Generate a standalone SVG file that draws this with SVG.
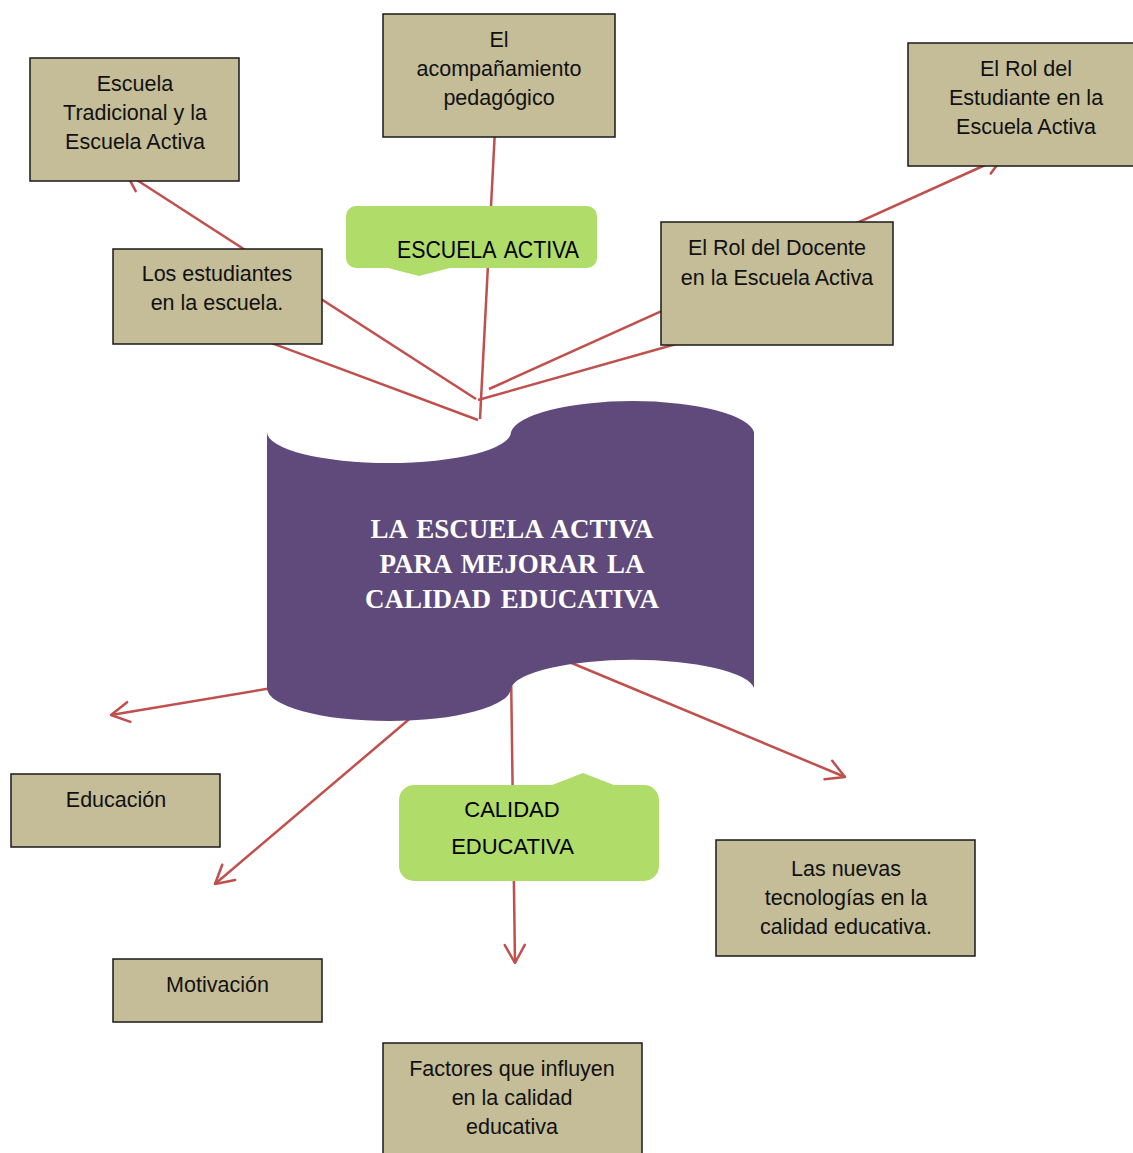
<svg xmlns="http://www.w3.org/2000/svg" width="1133" height="1153" viewBox="0 0 1133 1153">
  <defs>
    <marker id="arr" markerUnits="userSpaceOnUse" markerWidth="30" markerHeight="30" viewBox="-24 -15 28 30" refX="0" refY="0" orient="auto">
      <path d="M-18,-10 L0,0 L-18,10" fill="none" stroke="#C0504D" stroke-width="2.5" stroke-linecap="round" stroke-linejoin="round"/>
    </marker>
  </defs>
  <style>
    .conn { stroke: #C0504D; stroke-width: 2.5; fill: none; marker-end: url(#arr); }
    .box { fill: #C4BD97; stroke: #1a1a1a; stroke-width: 1.5; }
    .bt { font-family: "Liberation Sans", Arial, sans-serif; font-size: 21.5px; fill: #111; text-anchor: middle; }
    .call { fill: #B0DC6A; }
    .ct { font-family: "Liberation Sans", Arial, sans-serif; fill: #000; }
    .title { font-family: "Liberation Serif", "Times New Roman", serif; font-weight: bold; font-size: 27px; fill: #ffffff; text-anchor: middle; word-spacing: 3px; }
  </style>
  <rect width="1133" height="1153" fill="#ffffff"/>

  <g id="connectors">
    <line class="conn" x1="476" y1="399" x2="126" y2="173"/>
    <line class="conn" x1="478" y1="420" x2="215" y2="322"/>
    <line class="conn" x1="480" y1="419" x2="496" y2="110"/>
    <line class="conn" x1="489" y1="389" x2="1003" y2="157"/>
    <line class="conn" x1="478" y1="400" x2="740" y2="326"/>
    <line class="conn" x1="290" y1="685" x2="111" y2="715"/>
    <line class="conn" x1="420" y1="710" x2="215" y2="884"/>
    <line class="conn" x1="511" y1="670" x2="515" y2="963"/>
    <line class="conn" x1="550" y1="654" x2="845" y2="777"/>
  </g>

  <g id="center">
    <path d="M267,432 A122,31 0 0 0 511,432 A122,34 0 0 1 754,432 L754,688 A122,31 0 0 0 511,688 A122,33 0 0 1 267,688 Z" fill="#5F4A7B"/>
    <text class="title" x="512" y="538">LA ESCUELA ACTIVA</text>
    <text class="title" x="512" y="573">PARA MEJORAR LA</text>
    <text class="title" x="512" y="608">CALIDAD EDUCATIVA</text>
  </g>

  <g id="callout-escuela-activa">
    <path class="call" d="M356,206 H587 A10,10 0 0 1 597,216 V258 A10,10 0 0 1 587,268 H450 L419,276 L388,268 H356 A10,10 0 0 1 346,258 V216 A10,10 0 0 1 356,206 Z"/>
    <text class="ct" x="397" y="258" font-size="23" word-spacing="4" textLength="182" lengthAdjust="spacingAndGlyphs">ESCUELA ACTIVA</text>
  </g>

  <g id="callout-calidad-educativa">
    <path class="call" d="M414,785 H552 L583,773 L614,785 H644 A15,15 0 0 1 659,800 V866 A15,15 0 0 1 644,881 H414 A15,15 0 0 1 399,866 V800 A15,15 0 0 1 414,785 Z"/>
    <text class="ct" x="512" y="817" font-size="22" text-anchor="middle">CALIDAD</text>
    <text class="ct" x="512.5" y="854" font-size="22" text-anchor="middle">EDUCATIVA</text>
  </g>

  <g id="escuela-tradicional">
    <rect class="box" x="30" y="58" width="209" height="123"/>
    <text class="bt" x="135" y="91">Escuela</text>
    <text class="bt" x="135" y="120">Tradicional y la</text>
    <text class="bt" x="135" y="149">Escuela Activa</text>
  </g>

  <g id="acompanamiento">
    <rect class="box" x="383" y="14" width="232" height="123"/>
    <text class="bt" x="499" y="47">El</text>
    <text class="bt" x="499" y="76">acompañamiento</text>
    <text class="bt" x="499" y="105">pedagógico</text>
  </g>

  <g id="rol-estudiante">
    <rect class="box" x="908" y="43" width="232" height="123"/>
    <text class="bt" x="1026" y="76">El Rol del</text>
    <text class="bt" x="1026" y="105">Estudiante en la</text>
    <text class="bt" x="1026" y="134">Escuela Activa</text>
  </g>

  <g id="estudiantes-escuela">
    <rect class="box" x="113" y="249" width="209" height="95"/>
    <text class="bt" x="217" y="281">Los estudiantes</text>
    <text class="bt" x="217" y="310">en la escuela.</text>
  </g>

  <g id="rol-docente">
    <rect class="box" x="661" y="222" width="232" height="123"/>
    <text class="bt" x="777" y="255">El Rol del Docente</text>
    <text class="bt" x="777" y="285">en la Escuela Activa</text>
  </g>

  <g id="educacion">
    <rect class="box" x="11" y="774" width="209" height="73"/>
    <text class="bt" x="116" y="807">Educación</text>
  </g>

  <g id="motivacion">
    <rect class="box" x="113" y="959" width="209" height="63"/>
    <text class="bt" x="217.5" y="992">Motivación</text>
  </g>

  <g id="nuevas-tecnologias">
    <rect class="box" x="716" y="840" width="259" height="116"/>
    <text class="bt" x="846" y="876">Las nuevas</text>
    <text class="bt" x="846" y="905">tecnologías en la</text>
    <text class="bt" x="846" y="934">calidad educativa.</text>
  </g>

  <g id="factores">
    <rect class="box" x="383" y="1043" width="259" height="120"/>
    <text class="bt" x="512" y="1076">Factores que influyen</text>
    <text class="bt" x="512" y="1105">en la calidad</text>
    <text class="bt" x="512" y="1134">educativa</text>
  </g>
</svg>
